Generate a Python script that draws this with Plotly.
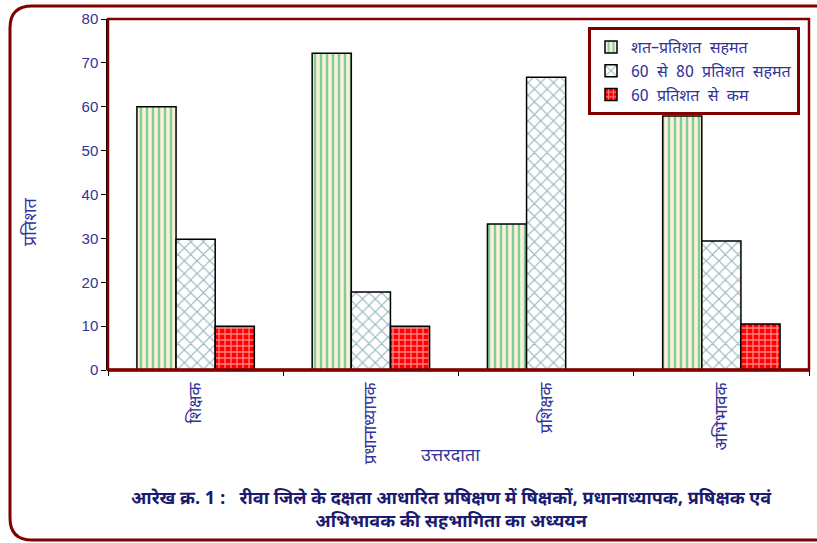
import plotly.graph_objects as go

categories = ["शिक्षक", "प्रधानाध्यापक", "प्रशिक्षक", "अभिभावक"]
series_names = ["शत–प्रतिशत  सहमत", "60  से  80  प्रतिशत  सहमत", "60  प्रतिशत  से  कम"]
full_agree = [60, 72.2, 33.3, 57.9]
agree_60_80 = [29.8, 17.8, 66.7, 29.4]
below_60 = [10, 10, 0, 10.5]
y_ticks = [0, 10, 20, 30, 40, 50, 60, 70, 80]

W, H = 817, 543
L, R, T, B = 108, 809, 19, 370
DEV = "Noto Sans Devanagari, Lohit Devanagari, Mangal, Noto Sans, sans-serif"
BLUE = "#333399"
DARKRED = "#800000"

def px(x):
    return (x - L) / (R - L)

def py(y):
    return (B - y) / (B - T)

fig = go.Figure()
fig.add_bar(x=categories, y=full_agree, name=series_names[0],
            marker=dict(color="#FCEBD6", line=dict(color="black", width=1.5),
                        pattern=dict(shape="|", fgcolor="#00B050", bgcolor="#FDEEDC", size=6, solidity=0.4)))
fig.add_bar(x=categories, y=agree_60_80, name=series_names[1],
            marker=dict(color="white", line=dict(color="black", width=1.5),
                        pattern=dict(shape="x", fgcolor="#2E6E80", bgcolor="white", size=9, solidity=0.25)))
fig.add_bar(x=categories, y=below_60, name=series_names[2],
            marker=dict(color="red", line=dict(color="black", width=1.5),
                        pattern=dict(shape="+", fgcolor="white", bgcolor="#FF0000", size=6, solidity=0.4)))

# outer rounded border
x0, y0, x1, y1, r = px(10), py(6), px(840), py(540), 22
rx, ry = r / (R - L), r / (B - T)
path = (f"M {x0},{y1 + ry} L {x0},{y0 - ry} Q {x0},{y0} {x0 + rx},{y0} "
        f"L {x1},{y0} L {x1},{y1} L {x0 + rx},{y1} Q {x0},{y1} {x0},{y1 + ry} Z")
shapes = [
    dict(type="path", xref="paper", yref="paper", path=path,
         line=dict(color=DARKRED, width=3), fillcolor="rgba(0,0,0,0)", layer="below"),
    dict(type="rect", xref="paper", yref="paper", x0=0, y0=0, x1=1, y1=1,
         line=dict(color=DARKRED, width=2.5), layer="above"),
    dict(type="line", xref="paper", yref="paper", x0=0, y0=0, x1=1, y1=0,
         line=dict(color=DARKRED, width=3.5), layer="above"),
]

annotations = [
    dict(text="उत्तरदाता", x=px(450), y=py(456), xref="paper", yref="paper",
         showarrow=False, font=dict(family=DEV, size=18, color=BLUE), xanchor="center", yanchor="middle"),
    dict(text="प्रतिशत", x=px(31), y=py(222), xref="paper", yref="paper", textangle=-90,
         showarrow=False, font=dict(family=DEV, size=18, color=BLUE), xanchor="center", yanchor="middle"),
    dict(text="<b>आरेख क्र. 1 :   रीवा जिले के दक्षता आधारित प्रषिक्षण में षिक्षकों, प्रधानाध्यापक, प्रषिक्षक एवं</b><br><b>अभिभावक की सहभागिता का अध्ययन</b>",
         x=px(451), y=py(510), xref="paper", yref="paper", showarrow=False, align="center",
         font=dict(family=DEV, size=18, color="#1A1A70"), xanchor="center", yanchor="middle"),
]

fig.update_layout(
    width=W, height=H,
    margin=dict(l=L, r=W - R, t=T, b=H - B),
    paper_bgcolor="white", plot_bgcolor="white",
    barmode="group", bargap=0.33, bargroupgap=0,
    showlegend=True,
    legend=dict(x=px(588), y=py(27), xanchor="left", yanchor="top",
                bordercolor=DARKRED, borderwidth=3, bgcolor="white",
                font=dict(family=DEV, size=16, color=BLUE), itemwidth=30,
                tracegroupgap=0),
    shapes=shapes, annotations=annotations,
)
fig.update_xaxes(tickangle=-90, tickfont=dict(family=DEV, size=17, color=BLUE),
                 ticks="outside", tickson="boundaries", ticklen=5, tickcolor="black",
                 ticklabelstandoff=8,
                 showline=False, showgrid=False)
fig.update_yaxes(range=[0, 80], tickvals=y_ticks, ticks="outside", ticklen=5, tickcolor="black",
                 tickfont=dict(family="Liberation Sans, Arial", size=15, color=BLUE),
                 showline=True, linecolor="black", linewidth=1.5, showgrid=False, zeroline=False)

fig.write_html("out.html")
